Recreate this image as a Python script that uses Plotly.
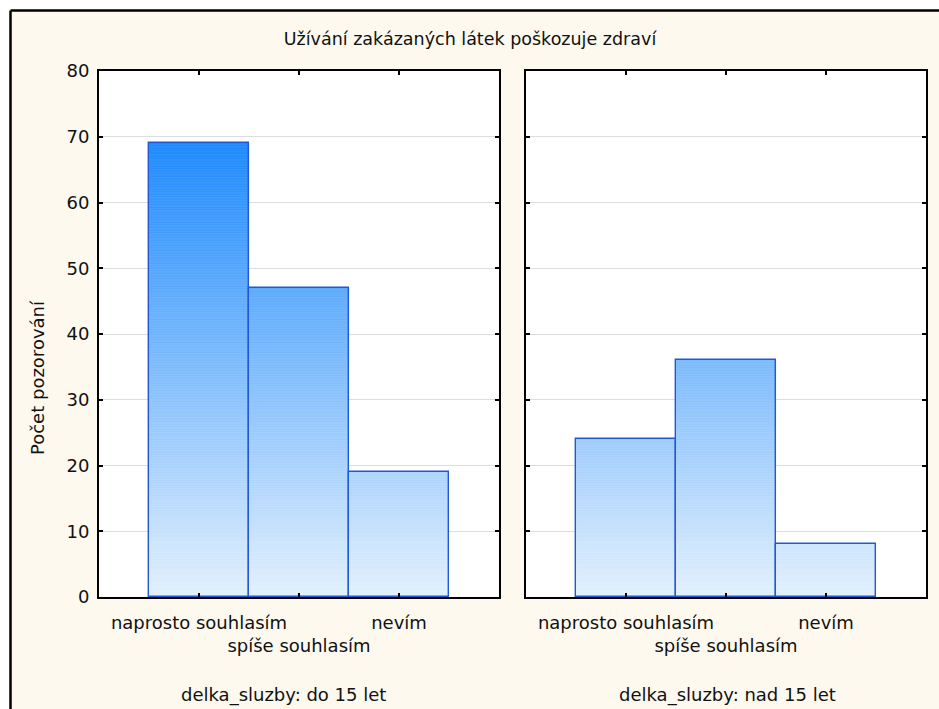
import plotly.graph_objects as go

# ---- data ----
categories = ["naprosto souhlasím", "spíše souhlasím", "nevím"]
values_do15 = [69, 47, 19]
values_nad15 = [24, 36, 8]
panel_titles = ["delka_sluzby: do 15 let", "delka_sluzby: nad 15 let"]
chart_title = "Užívání zakázaných látek poškozuje zdraví"
y_title = "Počet pozorování"
y_ticks = [0, 10, 20, 30, 40, 50, 60, 70, 80]

# ---- style ----
W, H = 939, 709
ML, MR, MT, MB = 99, 13, 71, 112
PW = W - ML - MR
PH = H - MT - MB
FONT = "DejaVu Sans"
CREAM = "#FDF9EF"
OUTLINE = "#2358D4"
STEP = 0.25
FS = 18


def grad_color(v):
    r = 228 - 2.87 * v
    g = 241 - 1.49 * v
    b = 254
    return f"rgb({int(round(r))},{int(round(g))},{int(round(b))})"


def px_x(px):
    return (px - ML) / PW


def px_y(py):
    return (H - MB - py) / PH


fig = go.Figure()

panels = [(values_do15, "x", "y"), (values_nad15, "x2", "y2")]
for vals, xa, ya in panels:
    xs, bases, hs, cols = [], [], [], []
    for cat, v in zip(categories, vals):
        b = 0.0
        while b < v - 1e-9:
            h = min(STEP, v - b)
            xs.append(cat)
            bases.append(b)
            hs.append(h)
            cols.append(grad_color(b + h / 2))
            b += STEP
    fig.add_trace(go.Bar(x=xs, y=hs, base=bases, xaxis=xa, yaxis=ya,
                         marker=dict(color=cols, line=dict(color=cols, width=0.6)),
                         showlegend=False, hoverinfo="skip"))
    fig.add_trace(go.Bar(x=categories, y=vals, xaxis=xa, yaxis=ya,
                         marker=dict(color="rgba(0,0,0,0)", line=dict(color=OUTLINE, width=1.4)),
                         showlegend=False))

ticktext = [c if i % 2 == 0 else "<br>" + c for i, c in enumerate(categories)]

xcommon = dict(type="category", range=[-1, 3], tickmode="array", tickvals=categories,
               ticktext=ticktext, tickangle=0, ticks="inside", ticklen=4, tickwidth=1.5,
               tickcolor="black", showline=True, linecolor="black", linewidth=2, mirror="ticks",
               showgrid=False, ticklabelstandoff=8,
               tickfont=dict(family=FONT, size=FS, color="#111"))
ycommon = dict(range=[0, 80], tickvals=y_ticks, ticks="inside", ticklen=4, tickwidth=1.5,
               tickcolor="black", showline=True, linecolor="black", linewidth=2, mirror="ticks",
               showgrid=True, gridcolor="#DDDDDD", gridwidth=1, zeroline=False,
               ticklabelstandoff=4, tickfont=dict(family=FONT, size=FS, color="#111"))

fig.update_layout(
    width=W, height=H,
    margin=dict(l=ML, r=MR, t=MT, b=MB, pad=0),
    paper_bgcolor=CREAM, plot_bgcolor="white",
    barmode="overlay", bargap=0,
    font=dict(family=FONT, size=FS, color="#111"),
    xaxis=dict(domain=[0, 400 / PW], anchor="y", **xcommon),
    xaxis2=dict(domain=[427 / PW, 1], anchor="y2", **xcommon),
    yaxis=dict(domain=[0, 1], anchor="x", **ycommon),
    yaxis2=dict(domain=[0, 1], anchor="x2", showticklabels=False, **ycommon),
    title=dict(text=chart_title, x=470 / W, xref="container", xanchor="center",
               y=1 - 39 / H, yref="container", yanchor="middle",
               font=dict(family=FONT, size=17.5, color="#111")),
)

# panel captions + y title
fig.add_annotation(text=panel_titles[0], xref="paper", yref="paper", x=px_x(283), y=px_y(695),
                   showarrow=False, font=dict(family=FONT, size=FS, color="#111"),
                   xanchor="center", yanchor="middle")
fig.add_annotation(text=panel_titles[1], xref="paper", yref="paper", x=px_x(727), y=px_y(695),
                   showarrow=False, font=dict(family=FONT, size=FS, color="#111"),
                   xanchor="center", yanchor="middle")
fig.add_annotation(text=y_title, xref="paper", yref="paper", x=px_x(37), y=px_y(378),
                   textangle=-90, showarrow=False, font=dict(family=FONT, size=FS, color="#111"),
                   xanchor="center", yanchor="middle")

# outer white margin + black frame (top and left)
fig.add_shape(type="rect", xref="paper", yref="paper", x0=px_x(-5), x1=px_x(960),
              y0=px_y(10.5), y1=px_y(-5), fillcolor="white", line_width=0, layer="above")
fig.add_shape(type="rect", xref="paper", yref="paper", x0=px_x(-5), x1=px_x(10.5),
              y0=px_y(730), y1=px_y(-5), fillcolor="white", line_width=0, layer="above")
fig.add_shape(type="line", xref="paper", yref="paper", x0=px_x(10.5), x1=px_x(960),
              y0=px_y(10.5), y1=px_y(10.5), line=dict(color="black", width=2.5), layer="above")
fig.add_shape(type="line", xref="paper", yref="paper", x0=px_x(10.5), x1=px_x(10.5),
              y0=px_y(10.5), y1=px_y(730), line=dict(color="black", width=2.5), layer="above")

fig.write_html("out.html",
               config={"displayModeBar": False},
               post_script="document.body.style.margin='0';"
                           "document.body.style.overflow='hidden';")
